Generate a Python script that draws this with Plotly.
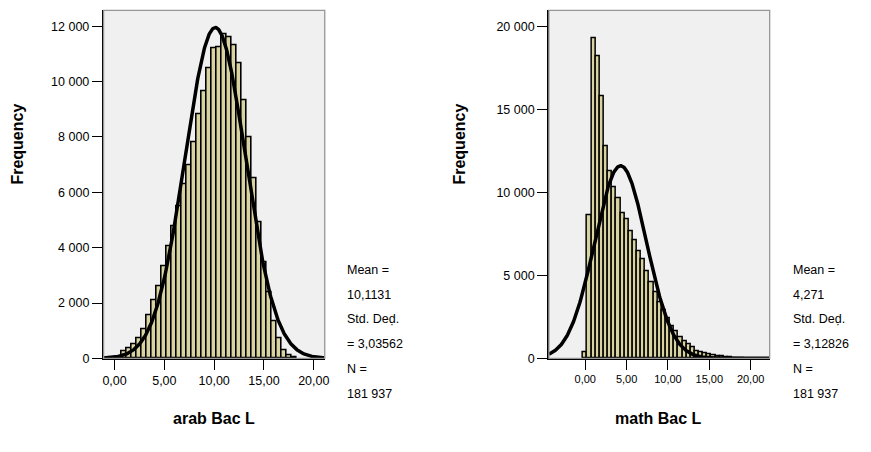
import numpy as np
import plotly.graph_objects as go

W, H = 871, 452

# ---------------- data ----------------
bin_width = 0.5

arab_centers = [1.0, 1.5, 2.0, 2.5, 3.0, 3.5, 4.0, 4.5, 5.0, 5.5, 6.0, 6.5, 7.0, 7.5,
                8.0, 8.5, 9.0, 9.5, 10.0, 10.5, 11.0, 11.5, 12.0, 12.5, 13.0, 13.5,
                14.0, 14.5, 15.0, 15.5, 16.0, 16.5, 17.0, 17.5, 18.0]
arab_counts = [260, 356, 523, 737, 1057, 1566, 2100, 2609, 3311, 4033, 4770, 5482, 6277, 6988,
               7821, 8804, 9637, 10466, 11203, 11225, 11712, 11595, 11296, 10644, 9316, 7974,
               6490, 4913, 3464, 2396, 1328, 712, 297, 119, 30]

math_centers = [0.0, 0.5, 1.0, 1.5, 2.0, 2.5, 3.0, 3.5, 4.0, 4.5, 5.0, 5.5, 6.0, 6.5, 7.0,
                7.5, 8.0, 8.5, 9.0, 9.5, 10.0, 10.5, 11.0, 11.5, 12.0, 12.5, 13.0, 13.5,
                14.0, 14.5, 15.0, 15.5, 16.0, 16.5, 17.0, 17.5, 18.0, 18.5, 19.0]
math_counts = [339, 8611, 19286, 18194, 15800, 12760, 11250, 10300, 9660, 8708, 8374, 7678,
               7083, 6428, 5990, 5250, 4565, 4006, 3400, 2917, 2422, 1950, 1625, 1268, 1030,
               820, 640, 440, 340, 280, 220, 175, 135, 110, 80, 50, 30, 20, 10]

arab_mean, arab_sd, arab_n = 10.1131, 3.03562, 181937
math_mean, math_sd, math_n = 4.271, 3.12826, 181937

arab_stats = ["Mean =", "10,1131", "Std. Deḍ.", "= 3,03562", "N =", "181 937"]
math_stats = ["Mean =", "4,271", "Std. Deḍ.", "= 3,12826", "N =", "181 937"]

x_tickvals = [0, 5, 10, 15, 20]
x_ticktext = ["0,00", "5,00", "10,00", "15,00", "20,00"]
arab_ytickvals = [0, 2000, 4000, 6000, 8000, 10000, 12000]
arab_yticktext = ["0", "2 000", "4 000", "6 000", "8 000", "10 000", "12 000"]
math_ytickvals = [0, 5000, 10000, 15000, 20000]
math_yticktext = ["0", "5 000", "10 000", "15 000", "20 000"]

# ---------------- style ----------------
FONT = "Liberation Sans, Arial, sans-serif"
BAR_FILL = "rgb(216,211,160)"
PLOT_BG = "rgb(240,240,240)"


def px_x(p):
    return p / W


def px_y(p):
    return 1 - p / H


def normal_curve(mean, sd, n, xmin, xmax):
    xs = np.linspace(xmin, xmax, 500)
    ys = n * bin_width / (sd * np.sqrt(2 * np.pi)) * np.exp(-0.5 * ((xs - mean) / sd) ** 2)
    return xs, ys


fig = go.Figure()

arab_xrange = [-1.1, 21.1]
math_xrange = [-4.4, 22.3]

fig.add_trace(go.Bar(x=arab_centers, y=arab_counts, width=bin_width,
                     marker=dict(color=BAR_FILL, line=dict(color="black", width=1.6)),
                     xaxis="x", yaxis="y", showlegend=False))
cx, cy = normal_curve(arab_mean, arab_sd, arab_n, *arab_xrange)
fig.add_trace(go.Scatter(x=cx, y=cy, mode="lines", line=dict(color="black", width=3.5),
                         xaxis="x", yaxis="y", showlegend=False))

fig.add_trace(go.Bar(x=math_centers, y=math_counts, width=bin_width,
                     marker=dict(color=BAR_FILL, line=dict(color="black", width=1.5)),
                     xaxis="x2", yaxis="y2", showlegend=False))
cx2, cy2 = normal_curve(math_mean, math_sd, math_n, *math_xrange)
fig.add_trace(go.Scatter(x=cx2, y=cy2, mode="lines", line=dict(color="black", width=3.5),
                         xaxis="x2", yaxis="y2", showlegend=False))

ydom = [px_y(364), px_y(10.5)]

common_axis = dict(showgrid=False, zeroline=False, showline=True, linecolor="black",
                   linewidth=1.5, ticks="outside", ticklen=10, tickwidth=1.4,
                   tickcolor="black")

fig.update_layout(
    width=W, height=H,
    margin=dict(l=0, r=0, t=0, b=0),
    paper_bgcolor="white",
    plot_bgcolor=PLOT_BG,
    font=dict(family=FONT, color="black", size=12),
    bargap=0,
    xaxis=dict(domain=[px_x(103.3), px_x(326)], range=arab_xrange,
               tickvals=x_tickvals, ticktext=x_ticktext,
               tickfont=dict(size=12.5), anchor="y", **common_axis),
    yaxis=dict(domain=ydom, range=[0, 12577], tickvals=arab_ytickvals,
               ticktext=arab_yticktext, tickfont=dict(size=12.5), anchor="x",
               **common_axis),
    xaxis2=dict(domain=[px_x(551.7), px_x(774)], range=math_xrange,
                tickvals=x_tickvals, ticktext=x_ticktext,
                tickfont=dict(size=11), anchor="y2", **common_axis),
    yaxis2=dict(domain=ydom, range=[0, 20960], tickvals=math_ytickvals,
                ticktext=math_yticktext, tickfont=dict(size=12.5), anchor="x2",
                **common_axis),
)

# gray frame (top/right borders)
for xr, yr in (("x domain", "y domain"), ("x2 domain", "y2 domain")):
    fig.add_shape(type="rect", xref=xr, yref=yr, x0=0, x1=1, y0=0, y1=1,
                  line=dict(color="rgb(150,150,150)", width=1.3), layer="above")

ann = []
# axis titles
ann.append(dict(text="<b>Frequency</b>", x=px_x(17), y=px_y(146), xref="paper", yref="paper",
                textangle=-90, showarrow=False, font=dict(size=16),
                xanchor="center", yanchor="middle"))
ann.append(dict(text="<b>Frequency</b>", x=px_x(462), y=px_y(146), xref="paper", yref="paper",
                textangle=-90, showarrow=False, font=dict(size=16),
                xanchor="center", yanchor="middle"))
ann.append(dict(text="<b>arab Bac L</b>", x=px_x(214), y=px_y(425), xref="paper", yref="paper",
                showarrow=False, font=dict(size=16), xanchor="center", yanchor="middle"))
ann.append(dict(text="<b>math Bac L</b>", x=px_x(662), y=px_y(425), xref="paper", yref="paper",
                showarrow=False, font=dict(size=16), xanchor="center", yanchor="middle"))

# stats boxes
for lines, x0 in ((arab_stats, 346), (math_stats, 795)):
    for i, t in enumerate(lines):
        ann.append(dict(text=t, x=px_x(x0), y=px_y(274 + 25.2 * i), xref="paper", yref="paper",
                        showarrow=False, font=dict(size=12.5), xanchor="left",
                        yanchor="middle"))

fig.update_layout(annotations=ann)

fig.write_html("out.html")
